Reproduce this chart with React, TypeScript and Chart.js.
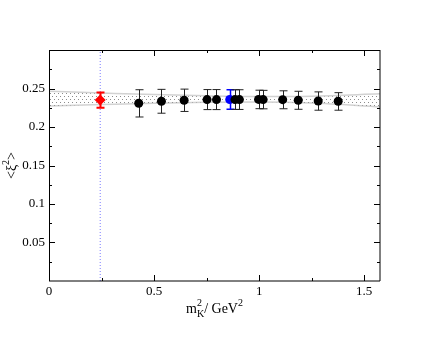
import { useEffect, useRef } from 'react';
import { Chart, registerables } from 'chart.js';

Chart.register(...registerables);

// ---- data ----
const latticeMassSq = [0.427, 0.535, 0.643, 0.752, 0.797, 0.885, 0.906, 0.997, 1.019, 1.112, 1.186, 1.281, 1.376];
const latticeXi2 = [0.2308, 0.2334, 0.2347, 0.2356, 0.2356, 0.2356, 0.2356, 0.2358, 0.2356, 0.2355, 0.2347, 0.2338, 0.2334];
const latticeErrUp = [0.0176, 0.0155, 0.0145, 0.013, 0.013, 0.0128, 0.0128, 0.012, 0.012, 0.0115, 0.0117, 0.0118, 0.0112];
const latticeErrDown = [0.0178, 0.0155, 0.0145, 0.013, 0.013, 0.0128, 0.0128, 0.012, 0.012, 0.0118, 0.0117, 0.012, 0.0116];

const blueMassSq = [0.86];
const blueXi2 = [0.2357];
const blueErr = [0.0127];

const physMassSq = [0.2437];
const physXi2 = [0.2350];
const physErr = [0.0099];

const bandX = [0, 0.25, 0.5, 0.75, 1.0, 1.25, 1.575];
const bandLower = [0.2273, 0.2292, 0.2310, 0.2322, 0.2325, 0.2312, 0.2262];
const bandUpper = [0.2464, 0.2442, 0.2421, 0.2405, 0.2396, 0.2400, 0.2432];

const xMajorTicks = [0, 0.5, 1, 1.5];
const xMinorTicks = [0.25, 0.75, 1.25];
const yMajorTicks = [0.05, 0.1, 0.15, 0.2, 0.25];
const yMinorTicks = [0.025, 0.075, 0.125, 0.175, 0.225, 0.275];

const X_MIN = 0;
const X_MAX = 1.575;
const Y_MIN = 0;
const Y_MAX = 0.3;

const FONT = "'Liberation Serif', 'Times New Roman', serif";

const fmt = (v: number) => String(parseFloat(Number(v).toFixed(3)));

type Seg = { t: string; size: number; dy: number; stackWithNext?: boolean };

function segWidth(ctx: CanvasRenderingContext2D, segs: Seg[]) {
  let w = 0;
  for (let i = 0; i < segs.length; i++) {
    const s = segs[i];
    ctx.font = `${s.size}px ${FONT}`;
    const sw = ctx.measureText(s.t).width;
    if (s.stackWithNext) {
      const n = segs[i + 1];
      ctx.font = `${n.size}px ${FONT}`;
      const nw = ctx.measureText(n.t).width;
      w += Math.max(sw, nw);
      i++;
    } else {
      w += sw;
    }
  }
  return w;
}

function drawSegs(ctx: CanvasRenderingContext2D, segs: Seg[], x0: number, y0: number) {
  let x = x0;
  for (let i = 0; i < segs.length; i++) {
    const s = segs[i];
    ctx.font = `${s.size}px ${FONT}`;
    ctx.fillText(s.t, x, y0 + s.dy);
    const sw = ctx.measureText(s.t).width;
    if (s.stackWithNext) {
      const n = segs[i + 1];
      ctx.font = `${n.size}px ${FONT}`;
      ctx.fillText(n.t, x, y0 + n.dy);
      const nw = ctx.measureText(n.t).width;
      x += Math.max(sw, nw);
      i++;
    } else {
      x += sw;
    }
  }
}

const errorBarsPlugin = {
  id: 'errorBars',
  beforeDatasetDraw(chart: any, args: any) {
    const ds: any = chart.data.datasets[args.index];
    if (!ds.errUp) return;
    const meta = chart.getDatasetMeta(args.index);
    const ys = chart.scales.y;
    const ctx: CanvasRenderingContext2D = chart.ctx;
    ctx.save();
    ctx.strokeStyle = ds.errColor;
    ctx.lineWidth = ds.errWidth;
    meta.data.forEach((pt: any, i: number) => {
      const v = ds.data[i].y;
      const x = Math.round(pt.x) + 0.5;
      const yTop = ys.getPixelForValue(v + ds.errUp[i]);
      const yBot = ys.getPixelForValue(v - ds.errDown[i]);
      ctx.beginPath();
      ctx.moveTo(x, yTop);
      ctx.lineTo(x, yBot);
      ctx.moveTo(x - 4, yTop);
      ctx.lineTo(x + 4, yTop);
      ctx.moveTo(x - 4, yBot);
      ctx.lineTo(x + 4, yBot);
      ctx.stroke();
    });
    ctx.restore();
  },
};

const framePlugin = {
  id: 'frame',
  afterDraw(chart: any) {
    const ctx: CanvasRenderingContext2D = chart.ctx;
    const a = chart.chartArea;
    const xs = chart.scales.x;
    const ys = chart.scales.y;
    ctx.save();
    ctx.strokeStyle = '#000';
    ctx.lineWidth = 1;
    ctx.beginPath();
    ctx.moveTo(a.left + 0.5, a.top + 0.5);
    ctx.lineTo(a.right, a.top + 0.5);
    ctx.moveTo(a.left + 0.5, a.top);
    ctx.lineTo(a.left + 0.5, a.bottom);
    ctx.moveTo(a.right, a.top);
    ctx.lineTo(a.right, a.bottom);
    ctx.moveTo(a.left, a.bottom);
    ctx.lineTo(a.right, a.bottom);
    ctx.stroke();

    const tick = (vals: number[], len: number) => {
      ctx.beginPath();
      vals.forEach((v) => {
        const px = Math.round(xs.getPixelForValue(v)) + 0.5;
        ctx.moveTo(px, a.bottom);
        ctx.lineTo(px, a.bottom - len);
        ctx.moveTo(px, a.top);
        ctx.lineTo(px, a.top + len);
      });
      ctx.stroke();
    };
    const ytick = (vals: number[], len: number) => {
      ctx.beginPath();
      vals.forEach((v) => {
        const py = Math.round(ys.getPixelForValue(v)) + 0.5;
        ctx.moveTo(a.left, py);
        ctx.lineTo(a.left + len, py);
        ctx.moveTo(a.right, py);
        ctx.lineTo(a.right - len, py);
      });
      ctx.stroke();
    };
    tick(xMajorTicks, 6);
    tick(xMinorTicks, 3);
    ytick(yMajorTicks, 6);
    ytick(yMinorTicks, 3);

    // x title: m_K^2 / GeV^2
    ctx.fillStyle = '#000';
    ctx.textBaseline = 'alphabetic';
    ctx.textAlign = 'left';
    const xSegs: Seg[] = [
      { t: 'm', size: 14, dy: 0 },
      { t: '2', size: 10, dy: -7, stackWithNext: true },
      { t: 'K', size: 10, dy: 4 },
      { t: '/ GeV', size: 14, dy: 0 },
      { t: '2', size: 10, dy: -7 },
    ];
    const xw = segWidth(ctx, xSegs);
    drawSegs(ctx, xSegs, (a.left + a.right) / 2 - xw / 2, 313);

    // y title: <ξ^2>
    const ySegs: Seg[] = [
      { t: '<', size: 14, dy: 0 },
      { t: 'ξ', size: 14, dy: 0 },
      { t: '2', size: 10, dy: -7 },
      { t: '>', size: 14, dy: 0 },
    ];
    const yw = segWidth(ctx, ySegs);
    ctx.translate(15.5, (a.top + a.bottom) / 2);
    ctx.rotate(-Math.PI / 2);
    drawSegs(ctx, ySegs, -yw / 2, 0);
    ctx.restore();
  },
};

export default function App() {
  const ref = useRef<HTMLCanvasElement>(null);

  useEffect(() => {
    const canvas = ref.current!;
    const tile = document.createElement('canvas');
    tile.width = 4;
    tile.height = 6;
    const tc = tile.getContext('2d')!;
    tc.fillStyle = '#8c8c8c';
    tc.fillRect(0, 0, 1, 1);
    tc.fillRect(2, 3, 1, 1);
    const pattern = canvas.getContext('2d')!.createPattern(tile, 'repeat');

    const chart = new Chart(canvas, {
      type: 'line',
      data: {
        datasets: [
          {
            label: 'physical',
            data: physMassSq.map((x, i) => ({ x, y: physXi2[i] })),
            showLine: false,
            pointStyle: 'rectRot',
            pointRadius: 5.5,
            pointBackgroundColor: '#ff0000',
            pointBorderColor: '#ff0000',
            pointBorderWidth: 0,
            errUp: physErr,
            errDown: physErr,
            errColor: '#ff0000',
            errWidth: 2,
          } as any,
          {
            label: 'lattice',
            data: latticeMassSq.map((x, i) => ({ x, y: latticeXi2[i] })),
            showLine: false,
            pointStyle: 'circle',
            pointRadius: 4.5,
            pointBackgroundColor: '#000',
            pointBorderColor: '#000',
            pointBorderWidth: 0,
            errUp: latticeErrUp,
            errDown: latticeErrDown,
            errColor: '#222',
            errWidth: 1,
          } as any,
          {
            label: 'blue',
            data: blueMassSq.map((x, i) => ({ x, y: blueXi2[i] })),
            showLine: false,
            pointStyle: 'circle',
            pointRadius: 4.5,
            pointBackgroundColor: '#0000ff',
            pointBorderColor: '#0000ff',
            pointBorderWidth: 0,
            errUp: blueErr,
            errDown: blueErr,
            errColor: '#0000ff',
            errWidth: 1.5,
          } as any,
          {
            label: 'vline',
            data: [
              { x: physMassSq[0], y: Y_MIN },
              { x: physMassSq[0], y: Y_MAX },
            ],
            showLine: true,
            borderColor: '#7a7aff',
            borderWidth: 1,
            borderDash: [1, 2],
            pointRadius: 0,
            fill: false,
          } as any,
          {
            label: 'bandUpper',
            data: bandX.map((x, i) => ({ x, y: bandUpper[i] })),
            showLine: true,
            borderColor: '#d2d2d2',
            borderWidth: 1.5,
            pointRadius: 0,
            cubicInterpolationMode: 'monotone',
            fill: '+1',
            backgroundColor: pattern,
          } as any,
          {
            label: 'bandLower',
            data: bandX.map((x, i) => ({ x, y: bandLower[i] })),
            showLine: true,
            borderColor: '#d2d2d2',
            borderWidth: 1.5,
            pointRadius: 0,
            cubicInterpolationMode: 'monotone',
            fill: false,
          } as any,
        ],
      },
      options: {
        animation: false,
        responsive: false,
        events: [],
        layout: { padding: { top: 50, right: 60, left: 0, bottom: 0 } },
        plugins: {
          legend: { display: false },
          tooltip: { enabled: false },
        },
        scales: {
          x: {
            type: 'linear',
            min: X_MIN,
            max: X_MAX,
            grid: { display: false, drawTicks: false },
            border: { display: false },
            ticks: {
              stepSize: 0.5,
              includeBounds: false,
              autoSkip: false,
              maxRotation: 0,
              padding: 3,
              color: '#000',
              font: { family: FONT, size: 13 },
              callback: (v: any) => fmt(v),
            },
            afterFit: (s: any) => {
              s.height = 59;
            },
          },
          y: {
            type: 'linear',
            min: Y_MIN,
            max: Y_MAX,
            grid: { display: false, drawTicks: false },
            border: { display: false },
            ticks: {
              stepSize: 0.05,
              padding: 4,
              color: '#000',
              font: { family: FONT, size: 13 },
              callback: (v: any) => (v <= 0.0001 || v >= Y_MAX - 0.0001 ? '' : fmt(v)),
            },
            afterFit: (s: any) => {
              s.width = 49;
            },
          },
        },
      } as any,
      plugins: [errorBarsPlugin, framePlugin],
    });
    return () => chart.destroy();
  }, []);

  return (
    <div style={{ position: 'fixed', left: 0, top: 0, width: 440, height: 340, background: '#fff' }}>
      <canvas ref={ref} width={440} height={340} />
    </div>
  );
}
